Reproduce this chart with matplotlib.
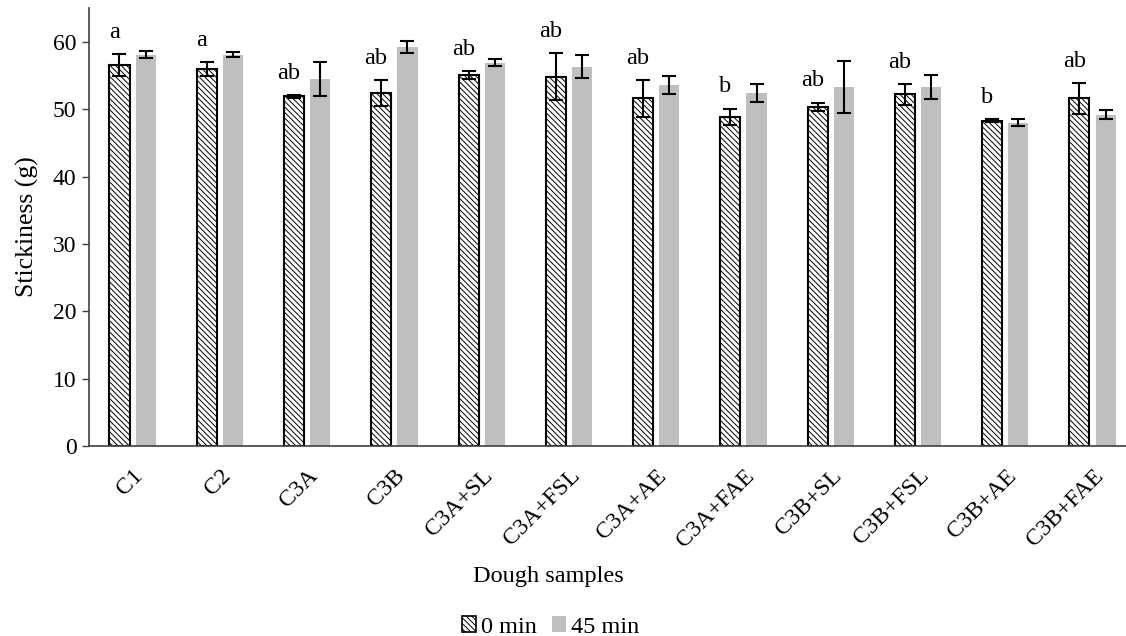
import numpy as np
import matplotlib
matplotlib.use('Agg')
import matplotlib.pyplot as plt
from matplotlib.patches import Patch
from matplotlib.transforms import ScaledTranslation

samples = ['C1', 'C2', 'C3A', 'C3B', 'C3A+SL', 'C3A+FSL', 'C3A+AE', 'C3A+FAE',
           'C3B+SL', 'C3B+FSL', 'C3B+AE', 'C3B+FAE']
min0 = [56.6, 56.0, 51.9, 52.4, 55.1, 54.8, 51.6, 48.9, 50.4, 52.2, 48.3, 51.6]
min0_err = [1.6, 1.0, 0.2, 1.9, 0.6, 3.5, 2.7, 1.2, 0.6, 1.6, 0.2, 2.3]
min45 = [58.1, 58.1, 54.5, 59.2, 56.9, 56.3, 53.6, 52.4, 53.3, 53.3, 48.0, 49.2]
min45_err = [0.5, 0.4, 2.5, 0.9, 0.5, 1.7, 1.4, 1.3, 3.8, 1.8, 0.5, 0.7]
letters = ['a', 'a', 'ab', 'ab', 'ab', 'ab', 'ab', 'b', 'ab', 'ab', 'b', 'ab']

plt.rcParams['font.family'] = ['Liberation Serif', 'DejaVu Serif']
plt.rcParams['hatch.color'] = '#bdbdbd'
plt.rcParams['hatch.linewidth'] = 0.7

fig = plt.figure(figsize=(11.26, 6.36), dpi=100)
ax = fig.add_axes([0.079, 0.299, 0.93, 0.688])

x = np.arange(len(samples))
w = 0.23
off = 0.15
err_kw = dict(ecolor='black', elinewidth=1.5, capsize=5, capthick=1.5)
hatch = '\\' * 6

ax.bar(x - off, min0, w, yerr=min0_err, color='white', edgecolor='black',
       linewidth=1.5, hatch=hatch, error_kw=err_kw, label='0 min', zorder=2)
ax.bar(x + off, min45, w, yerr=min45_err, color='#bfbfbf', edgecolor='none',
       error_kw=err_kw, label='45 min', zorder=2)

for xi, v, e, t in zip(x, min0, min0_err, letters):
    ax.annotate(t, (xi - off - 0.06, v + e), xytext=(0, 8), textcoords='offset points',
                ha='center', va='bottom', fontsize=17.5)

ax.set_xlim(-0.5, 11.5)
ax.set_ylim(0, 65)
ax.set_yticks(range(0, 61, 10))
ax.set_xticks(x)
ax.set_xticklabels(samples, rotation=45, ha='right', rotation_mode='anchor', fontsize=17)
shift = ScaledTranslation(-6 / 100, 0, fig.dpi_scale_trans)
for lab in ax.get_xticklabels():
    lab.set_transform(lab.get_transform() + shift)
ax.tick_params(axis='y', labelsize=17, length=5, width=1, color='#404040', pad=4)
ax.tick_params(axis='x', length=0, pad=14)
for s in ['top', 'right']:
    ax.spines[s].set_visible(False)
for s in ['left', 'bottom']:
    ax.spines[s].set_color('#404040')
    ax.spines[s].set_linewidth(1.2)

ax.set_ylabel('Stickiness (g)', fontsize=18.5, labelpad=10)
fig.text(0.487, 0.093, 'Dough samples', ha='center', va='center', fontsize=17.5)

handles = [Patch(facecolor='white', edgecolor='black', hatch=hatch, linewidth=1.2),
           Patch(facecolor='#bfbfbf', edgecolor='none')]
fig.legend(handles, ['0 min', '45 min'], loc='center', bbox_to_anchor=(0.489, 0.014),
           ncol=2, frameon=False, fontsize=17.5, handlelength=0.6, handleheight=0.6,
           handletextpad=0.2, columnspacing=0.6)

fig.savefig('out.png', dpi=100)
